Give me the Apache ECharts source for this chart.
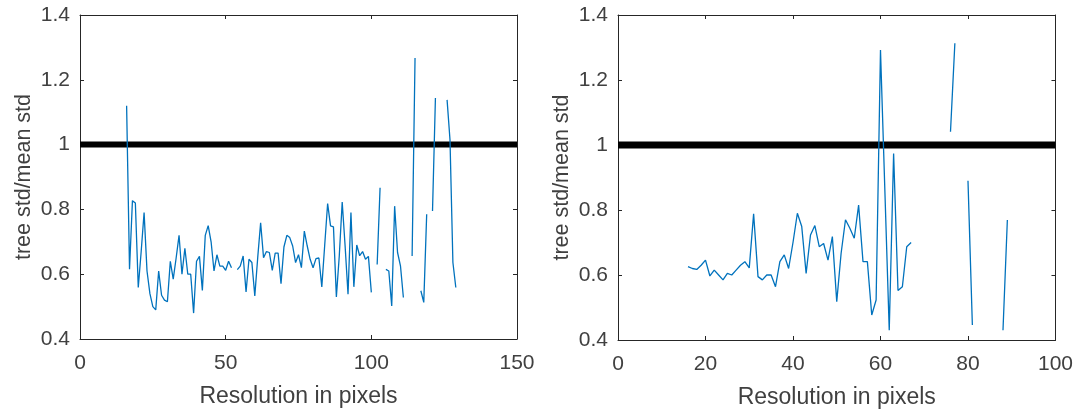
<!DOCTYPE html>
<html>
<head>
<meta charset="utf-8">
<script src="https://cdn.jsdelivr.net/npm/echarts@6/dist/echarts.min.js"></script>
<style>
  html, body { margin: 0; padding: 0; background: #ffffff; }
  #chart { width: 1076px; height: 415px; }
</style>
</head>
<body>
<div id="chart"></div>
<script>
// Left panel: resolution (px) and tree std / mean std; null marks a missing value
const leftRes = [
  16, 17, 18, 19, 20, 21, 22, 23, 24, 25, 26, 27, 28, 29, 30, 31, 32, 33, 34, 35,
  36, 37, 38, 39, 40, 41, 42, 43, 44, 45, 46, 47, 48, 49, 50, 51, 52, 53, 54, 55,
  56, 57, 58, 59, 60, 61, 62, 63, 64, 65, 66, 67, 68, 69, 70, 71, 72, 73, 74, 75,
  76, 77, 78, 79, 80, 81, 82, 83, 84, 85, 86, 87, 88, 89, 90, 91, 92, 93, 94, 95,
  96, 97, 98, 99, 100, 101, 102, 103, 104, 105, 106, 107, 108, 109, 110, 111, 112, 113, 114, 115,
  116, 117, 118, 119, 120, 121, 122, 123, 124, 125, 126, 127, 128, 129
];
const leftRatio = [
  1.12, 0.615, 0.827, 0.82, 0.559, 0.67, 0.79, 0.61, 0.54, 0.50, 0.49, 0.61, 0.535, 0.52, 0.515, 0.64, 0.585, 0.65, 0.72, 0.60,
  0.68, 0.60, 0.60, 0.48, 0.64, 0.655, 0.55, 0.72, 0.75, 0.70, 0.61, 0.66, 0.625, 0.625, 0.612, 0.64, 0.62, null, 0.614, 0.625,
  0.656, 0.545, 0.646, 0.636, 0.533, 0.651, 0.759, 0.651, 0.67, 0.667, 0.612, 0.665, 0.665, 0.571, 0.684, 0.72, 0.713, 0.687, 0.636, 0.66,
  0.62, 0.733, 0.687, 0.646, 0.62, 0.648, 0.65, 0.561, 0.69, 0.818, 0.749, 0.746, 0.53, 0.657, 0.823, 0.687, 0.538, 0.79, 0.561, 0.69,
  0.657, 0.67, 0.646, 0.655, 0.544, null, 0.63, 0.867, null, 0.615, 0.61, 0.502, 0.81, 0.667, 0.626, 0.528, null, null, 0.656, 1.267,
  null, 0.549, 0.513, 0.785, null, 0.795, 1.144, null, null, null, 1.138, 1.015, 0.636, 0.559
];

// Right panel
const rightRes = [
  16, 17, 18, 19, 20, 21, 22, 23, 24, 25, 26, 27, 28, 29, 30, 31, 32, 33, 34, 35,
  36, 37, 38, 39, 40, 41, 42, 43, 44, 45, 46, 47, 48, 49, 50, 51, 52, 53, 54, 55,
  56, 57, 58, 59, 60, 61, 62, 63, 64, 65, 66, 67, 68, 69, 70, 71, 72, 73, 74, 75,
  76, 77, 78, 79, 80, 81, 82, 83, 84, 85, 86, 87, 88, 89
];
const rightRatio = [
  0.626, 0.62, 0.617, 0.63, 0.646, 0.597, 0.615, 0.60, 0.585, 0.605, 0.60, 0.615, 0.63, 0.641, 0.622, 0.788, 0.595, 0.585, 0.60, 0.60,
  0.564, 0.641, 0.662, 0.62, 0.70, 0.79, 0.749, 0.605, 0.723, 0.752, 0.687, 0.697, 0.646, 0.718, 0.518, 0.667, 0.77, 0.744, 0.713, 0.815,
  0.641, 0.641, 0.477, 0.523, 1.292, 0.86, 0.43, 0.974, 0.552, 0.564, 0.687, 0.70, null, null, null, null, null, null, null, null,
  1.041, 1.313, null, null, 0.89, 0.446, null, null, null, null, null, null, 0.43, 0.769
];

// Reference level (ratio = 1) drawn across each panel
const leftRefX = [0, 150];
const rightRefX = [0, 100];
const refLevel = 1;

// Axis ranges and tick labels
const leftXTicks = [0, 50, 100, 150];
const rightXTicks = [0, 20, 40, 60, 80, 100];
const yTicks = [0.4, 0.6, 0.8, 1, 1.2, 1.4];

const pairs = (xs, ys) => xs.map((x, i) => [x, ys[i] === null ? '-' : ys[i]]);

const FONT = "'Liberation Sans', Arial, Helvetica, sans-serif";
const AX = '#262626';
const TXT = '#404040';
const BLUE = '#0072BD';

function xAxisPair(gridIndex, ticks) {
  const min = ticks[0], max = ticks[ticks.length - 1], interval = ticks[1] - ticks[0];
  const base = {
    type: 'value', gridIndex, min, max, interval,
    splitLine: { show: false },
    axisLine: { show: true, onZero: false, lineStyle: { color: AX, width: 1 } },
    axisTick: { show: true, inside: true, length: 4, lineStyle: { color: AX, width: 1 } }
  };
  return [
    Object.assign({}, base, {
      position: 'bottom',
      name: 'Resolution in pixels',
      nameLocation: 'middle',
      nameGap: 46,
      nameTextStyle: { color: TXT, fontSize: 23, fontFamily: FONT },
      axisLabel: { show: true, color: TXT, fontSize: 21, fontFamily: FONT, margin: 14 }
    }),
    Object.assign({}, base, {
      position: 'top',
      axisLabel: { show: false }
    })
  ];
}

function yAxisPair(gridIndex) {
  const base = {
    type: 'value', gridIndex,
    min: yTicks[0], max: yTicks[yTicks.length - 1], interval: 0.2,
    splitLine: { show: false },
    axisLine: { show: true, onZero: false, lineStyle: { color: AX, width: 1 } },
    axisTick: { show: true, inside: true, length: 4, lineStyle: { color: AX, width: 1 } }
  };
  return [
    Object.assign({}, base, {
      position: 'left',
      name: 'tree std/mean std',
      nameLocation: 'middle',
      nameGap: 45,
      nameRotate: 90,
      nameTextStyle: { color: TXT, fontSize: 21.5, fontFamily: FONT },
      axisLabel: { show: true, color: TXT, fontSize: 21, fontFamily: FONT, margin: 10 }
    }),
    Object.assign({}, base, {
      position: 'right',
      axisLabel: { show: false }
    })
  ];
}

const chart = echarts.init(document.getElementById('chart'), null, { renderer: 'canvas' });

chart.setOption({
  backgroundColor: '#ffffff',
  animation: false,
  grid: [
    { left: 80, top: 15, width: 437, height: 324 },
    { left: 618, top: 15, width: 440, height: 325 }
  ],
  xAxis: [...xAxisPair(0, leftXTicks), ...xAxisPair(1, rightXTicks)],
  yAxis: [...yAxisPair(0), ...yAxisPair(1)],
  series: [
    {
      type: 'line', xAxisIndex: 0, yAxisIndex: 0,
      data: leftRefX.map(x => [x, refLevel]),
      symbol: 'none', lineStyle: { color: '#000000', width: 6 }, z: 2, silent: true
    },
    {
      type: 'line', xAxisIndex: 0, yAxisIndex: 0,
      data: pairs(leftRes, leftRatio),
      symbol: 'none', connectNulls: false,
      lineStyle: { color: BLUE, width: 1.3 }, z: 3
    },
    {
      type: 'line', xAxisIndex: 2, yAxisIndex: 2,
      data: rightRefX.map(x => [x, refLevel]),
      symbol: 'none', lineStyle: { color: '#000000', width: 7 }, z: 2, silent: true
    },
    {
      type: 'line', xAxisIndex: 2, yAxisIndex: 2,
      data: pairs(rightRes, rightRatio),
      symbol: 'none', connectNulls: false,
      lineStyle: { color: BLUE, width: 1.3 }, z: 3
    }
  ]
});
</script>
</body>
</html>
